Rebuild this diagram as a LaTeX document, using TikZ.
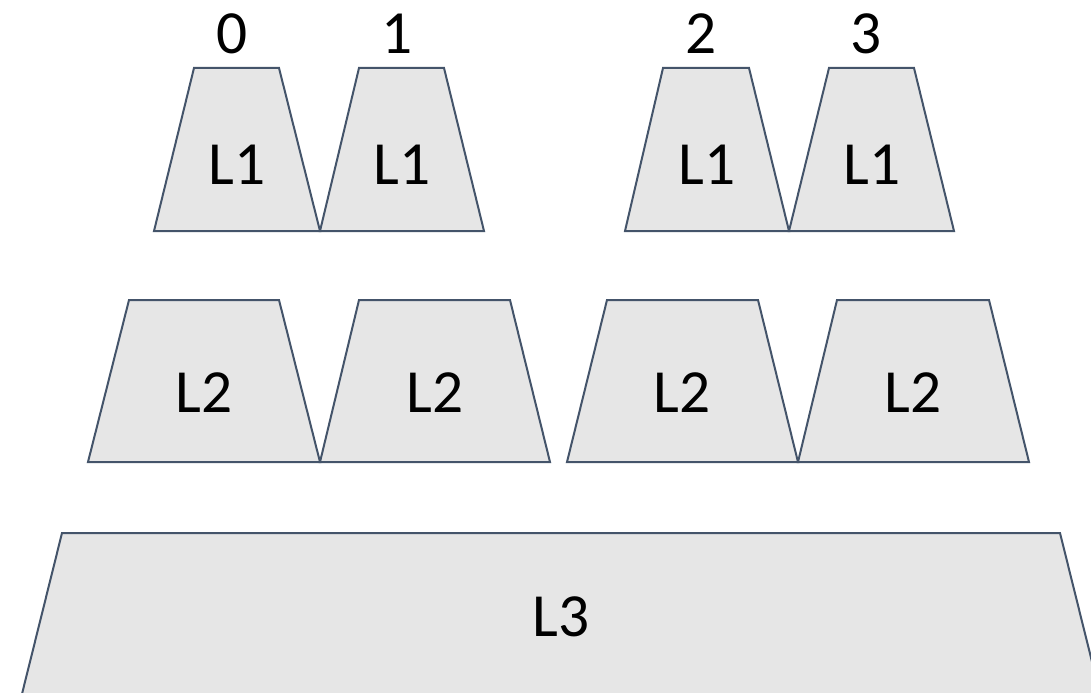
\documentclass[tikz,border=0pt]{standalone}
\usepackage{fontspec}
\setmainfont{Carlito}
\definecolor{edgeblue}{HTML}{44546A}
\definecolor{tiergray}{HTML}{E6E6E6}
\begin{document}
\begin{tikzpicture}[x=0.75pt, y=-0.75pt,
    tier/.style={draw=edgeblue, fill=tiergray, line width=1.5pt, line join=miter},
    lbl/.style={font=\fontsize{46}{50}\selectfont, inner sep=0pt},
    idx/.style={font=\fontsize{46}{50}\selectfont, inner sep=0pt}]
    \useasboundingbox (0,0) rectangle (1091,692);
    % 第一行：L1
    \draw[tier] (194,68) -- (279,68) -- (320,231) -- (154,231) -- cycle;
    \draw[tier] (359,68) -- (444,68) -- (484,231) -- (320,231) -- cycle;
    \draw[tier] (663,68) -- (749,68) -- (789,231) -- (625,231) -- cycle;
    \draw[tier] (829,68) -- (914,68) -- (954,231) -- (789,231) -- cycle;
    \node[lbl] (a0) at (237,165) {L1};
    \node[lbl] (a1) at (402,165) {L1};
    \node[lbl] (a2) at (707,165) {L1};
    \node[lbl] (a3) at (872,165) {L1};
    % 编号
    \node[idx] (n0) at (232,34) {0};
    \node[idx] (n1) at (397,34) {1};
    \node[idx] (n2) at (701,34) {2};
    \node[idx] (n3) at (866,34) {3};
    % 第二行：L2
    \draw[tier] (129,300) -- (279,300) -- (320,462) -- (88,462) -- cycle;
    \draw[tier] (359,300) -- (510,300) -- (550,462) -- (320,462) -- cycle;
    \draw[tier] (607,300) -- (758,300) -- (798,462) -- (567,462) -- cycle;
    \draw[tier] (837,300) -- (989,300) -- (1029,462) -- (798,462) -- cycle;
    \node[lbl] (b0) at (204,393) {L2};
    \node[lbl] (b1) at (435,393) {L2};
    \node[lbl] (b2) at (682,393) {L2};
    \node[lbl] (b3) at (913,393) {L2};
    % 第三行：L3（底边在画面外）
    \draw[tier] (62,533) -- (1060,533) -- (1104,710) -- (18,710) -- cycle;
    \node[lbl] (c0) at (561,617) {L3};
\end{tikzpicture}
\end{document}
